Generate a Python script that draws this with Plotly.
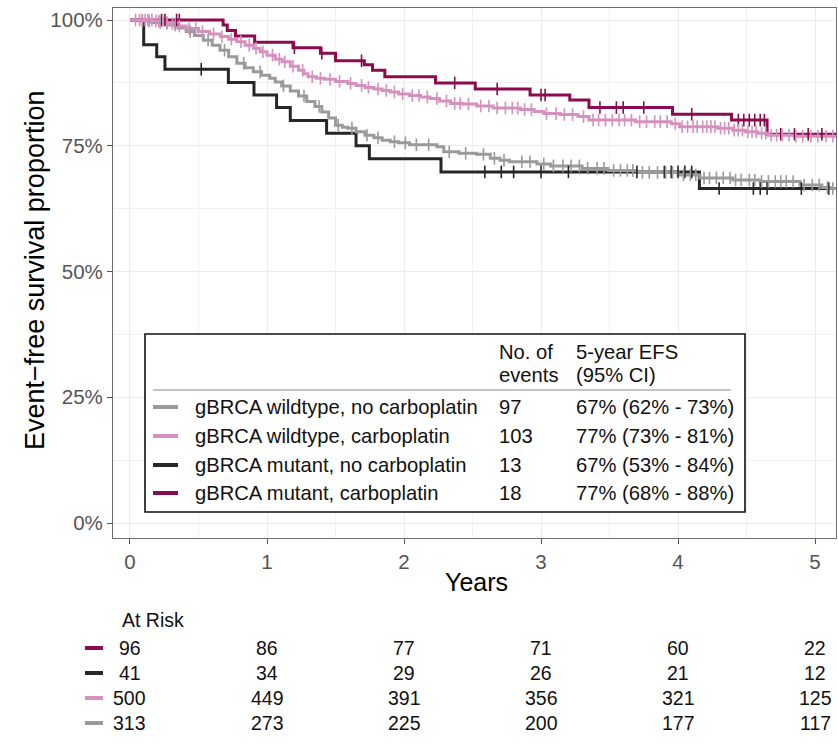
import numpy as np
import plotly.graph_objects as go

# ---------------- data ----------------
groups = ["gBRCA wildtype, no carboplatin", "gBRCA wildtype, carboplatin",
          "gBRCA mutant, no carboplatin", "gBRCA mutant, carboplatin"]
colors = ["#9A9A9A", "#D590BE", "#262626", "#8B0A50"]
n_events = ["97", "103", "13", "18"]
efs5 = ["67% (62% - 73%)", "77% (73% - 81%)", "67% (53% - 84%)", "77% (68% - 88%)"]

# Kaplan-Meier step curves (time in years, survival proportion)
wnc_t = [0, 0.07, 0.16, 0.29, 0.35, 0.41, 0.47, 0.535, 0.60, 0.657, 0.72, 0.78, 0.84, 0.90, 0.96,
         1.02, 1.06, 1.107, 1.17, 1.23, 1.29, 1.35, 1.40, 1.45, 1.50, 1.55, 1.59, 1.65, 1.715, 1.78,
         1.84, 1.90, 1.96, 2.04, 2.24, 2.29, 2.40, 2.53, 2.63, 2.70, 2.77, 2.97, 3.07, 3.30, 3.49,
         3.70, 4.00, 4.16, 4.40, 4.60, 4.89, 5.05, 5.11]
wnc_s = [1.0, 0.998, 0.995, 0.990, 0.984, 0.977, 0.969, 0.960, 0.950, 0.940, 0.927, 0.914, 0.905,
         0.897, 0.890, 0.884, 0.877, 0.869, 0.859, 0.849, 0.838, 0.828, 0.817, 0.805, 0.791, 0.787,
         0.785, 0.778, 0.771, 0.766, 0.761, 0.758, 0.756, 0.752, 0.748, 0.738, 0.735, 0.733, 0.725,
         0.721, 0.718, 0.714, 0.710, 0.705, 0.701, 0.697, 0.692, 0.686, 0.682, 0.679, 0.672, 0.667,
         0.665]

wc_t = [0, 0.17, 0.25, 0.33, 0.41, 0.50, 0.58, 0.66, 0.72, 0.78, 0.84, 0.90, 0.95, 1.00, 1.06, 1.11,
        1.17, 1.23, 1.27, 1.30, 1.36, 1.42, 1.50, 1.59, 1.65, 1.715, 1.78, 1.84, 1.90, 1.96, 2.04,
        2.12, 2.19, 2.26, 2.34, 2.43, 2.53, 2.65, 2.85, 2.95, 3.02, 3.14, 3.27, 3.35, 3.69, 3.95,
        4.01, 4.29, 4.40, 4.49, 4.58, 4.66, 4.85]
wc_s = [1.0, 0.998, 0.993, 0.988, 0.983, 0.977, 0.972, 0.967, 0.962, 0.957, 0.950, 0.944, 0.937,
        0.930, 0.922, 0.917, 0.908, 0.900, 0.893, 0.887, 0.884, 0.882, 0.878, 0.874, 0.870, 0.866,
        0.863, 0.860, 0.857, 0.853, 0.850, 0.847, 0.844, 0.839, 0.834, 0.833, 0.829, 0.825, 0.822,
        0.818, 0.814, 0.812, 0.808, 0.801, 0.798, 0.794, 0.788, 0.785, 0.781, 0.778, 0.775, 0.771,
        0.769]

mnc_t = [0, 0.10, 0.195, 0.255, 0.718, 0.905, 1.07, 1.17, 1.435, 1.65, 1.747, 2.27, 4.156]
mnc_s = [1.0, 0.951, 0.927, 0.902, 0.876, 0.851, 0.826, 0.800, 0.775, 0.750, 0.724, 0.698, 0.665]

mc_t = [0, 0.68, 0.71, 0.77, 0.91, 1.19, 1.39, 1.50, 1.71, 1.77, 1.86, 2.23, 2.52, 2.92, 3.21,
        3.35, 3.96, 4.39, 4.65]
mc_s = [1.0, 0.990, 0.979, 0.968, 0.956, 0.945, 0.934, 0.919, 0.911, 0.900, 0.887, 0.875, 0.863,
        0.851, 0.841, 0.826, 0.8125, 0.801, 0.773]

last_followup = [5.2, 5.2, 5.2, 5.2]

# censoring times
wnc_cens = [0.09, 0.14, 0.22, 0.27, 0.33, 0.44, 0.57, 0.69, 0.83, 0.95, 1.12, 1.27, 1.38, 1.52,
            1.62, 1.73, 1.81, 1.93, 2.01, 2.09, 2.18, 2.33, 2.45, 2.58, 2.66, 2.73, 2.86, 2.92,
            3.02, 3.09, 3.16, 3.22, 3.28, 3.34, 3.41, 3.46, 3.53, 3.58, 3.63, 3.67, 3.74, 3.79,
            3.85, 3.91, 3.96, 4.04, 4.09, 4.13, 4.19, 4.23, 4.28, 4.33, 4.38, 4.42, 4.46, 4.52,
            4.56, 4.61, 4.66, 4.71, 4.75, 4.79, 4.84, 4.92, 4.98, 5.03, 5.09, 5.13]
wc_cens = [0.04, 0.07, 0.09, 0.11, 0.13, 0.16, 0.19, 0.21, 0.24, 0.27, 0.31, 0.36, 0.43, 0.48,
           0.53, 0.61, 0.67, 0.74, 0.81, 0.87, 0.92, 0.97, 1.04, 1.09, 1.13, 1.19, 1.26, 1.33,
           1.39, 1.46, 1.53, 1.61, 1.69, 1.74, 1.81, 1.87, 1.93, 1.99, 2.06, 2.11, 2.17, 2.24,
           2.31, 2.37, 2.41, 2.47, 2.56, 2.62, 2.68, 2.74, 2.79, 2.83, 2.88, 2.93, 3.04, 3.11,
           3.17, 3.23, 3.31, 3.38, 3.42, 3.47, 3.52, 3.57, 3.61, 3.66, 3.72, 3.77, 3.83, 3.87,
           3.92, 3.98, 4.03, 4.07, 4.11, 4.14, 4.18, 4.21, 4.24, 4.27, 4.31, 4.34, 4.37, 4.41,
           4.44, 4.47, 4.51, 4.54, 4.57, 4.61, 4.64, 4.68, 4.72, 4.76, 4.81, 4.86, 4.91, 4.97,
           5.02, 5.08, 5.13]
mnc_cens = [0.52, 2.59, 2.71, 2.80, 3.00, 3.20, 3.70, 3.90, 3.95, 4.00, 4.05, 4.10, 4.30, 4.55,
            4.60, 4.65, 4.90, 5.10]
mc_cens = [0.23, 0.255, 0.34, 0.36, 1.20, 1.40, 1.69, 2.37, 2.68, 3.00, 3.03, 3.43, 3.55, 3.60,
           3.75, 4.10, 4.44, 4.48, 4.52, 4.56, 4.60, 4.63, 4.75, 4.85, 4.95, 5.05]

# numbers at risk
risk_times = [0, 1, 2, 3, 4, 5]
risk_mc = [96, 86, 77, 71, 60, 22]
risk_mnc = [41, 34, 29, 26, 21, 12]
risk_wc = [500, 449, 391, 356, 321, 125]
risk_wnc = [313, 273, 225, 200, 177, 117]

x_ticks = [0, 1, 2, 3, 4, 5]
y_ticks = [0, 0.25, 0.5, 0.75, 1.0]
y_ticktext = ["0%", "25%", "50%", "75%", "100%"]

# ---------------- figure ----------------
W, H = 838, 746
ML, MR, MT, MB = 113, 2, 8, 208
PW, PH = W - ML - MR, H - MT - MB


def px(x):
    return (x - ML) / PW


def py(y):
    return (MT + PH - y) / PH


FONT = "Liberation Sans, Arial, Helvetica, sans-serif"

curves = {
    0: (wnc_t, wnc_s, wnc_cens),
    1: (wc_t, wc_s, wc_cens),
    2: (mnc_t, mnc_s, mnc_cens),
    3: (mc_t, mc_s, mc_cens),
}
draw_order = [2, 3, 0, 1]

fig = go.Figure()
for g in draw_order:
    t, s, _ = curves[g]
    fig.add_trace(go.Scatter(
        x=list(t) + [last_followup[g]], y=list(s) + [s[-1]],
        mode="lines", line=dict(color=colors[g], width=3, shape="hv"),
        name=groups[g], showlegend=False, hoverinfo="skip"))
for g in draw_order:
    t, s, c = curves[g]
    idx = np.searchsorted(np.array(t), np.array(c), side="right") - 1
    fig.add_trace(go.Scatter(
        x=c, y=np.array(s)[idx], mode="markers",
        marker=dict(symbol="line-ns", size=9, color=colors[g],
                    line=dict(color=colors[g], width=1.6)),
        showlegend=False, hoverinfo="skip"))

axis_common = dict(
    showline=True, linecolor="#6E6E6E", linewidth=1.2, mirror=True,
    ticks="outside", ticklen=5, tickwidth=1.1, tickcolor="#555555",
    tickfont=dict(family=FONT, size=20.5, color="#555555"),
    showgrid=True, gridcolor="#EBEBEB", gridwidth=1.3, zeroline=False,
)
fig.update_xaxes(range=[-0.124, 5.153], tickmode="array", tickvals=x_ticks,
                 ticktext=[str(v) for v in x_ticks],
                 minor=dict(tickvals=[0.5, 1.5, 2.5, 3.5, 4.5], showgrid=True,
                            gridcolor="#F1F1F1", gridwidth=0.8, ticks=""),
                 **axis_common)
fig.update_yaxes(range=[-0.0298, 1.0239], tickmode="array", tickvals=y_ticks,
                 ticktext=y_ticktext,
                 minor=dict(tickvals=[0.125, 0.375, 0.625, 0.875], showgrid=True,
                            gridcolor="#F1F1F1", gridwidth=0.8, ticks=""),
                 **axis_common)

shapes = []
annotations = []

# axis titles
annotations.append(dict(xref="paper", yref="paper", x=px(476), y=py(582), text="Years",
                        showarrow=False, xanchor="center", yanchor="middle",
                        font=dict(family=FONT, size=25, color="#000000")))
annotations.append(dict(xref="paper", yref="paper", x=px(35), y=py(271),
                        text="Event\u2212free survival proportion", textangle=-90,
                        showarrow=False, xanchor="center", yanchor="middle",
                        font=dict(family=FONT, size=27, color="#000000")))

# legend box (table)
BX0, BX1, BY0, BY1 = 145, 745, 334, 512
shapes.append(dict(type="rect", xref="paper", yref="paper", x0=px(BX0), x1=px(BX1),
                   y0=py(BY1), y1=py(BY0), fillcolor="white",
                   line=dict(color="#111111", width=1.6), layer="above"))
shapes.append(dict(type="line", xref="paper", yref="paper", x0=px(153), x1=px(731),
                   y0=py(390), y1=py(390), line=dict(color="#8A8A8A", width=1.2),
                   layer="above"))
LF = dict(family=FONT, size=20.2, color="#111111")
for txt, xx, yy in [("No. of", 497, 352), ("events", 497, 375),
                    ("5-year EFS", 574, 352), ("(95% CI)", 574, 375)]:
    annotations.append(dict(xref="paper", yref="paper", x=px(xx), y=py(yy), text=txt,
                            showarrow=False, xanchor="left", yanchor="middle", font=LF))
row_y = [407, 436, 465, 493]
for g in range(4):
    yy = row_y[g]
    shapes.append(dict(type="line", xref="paper", yref="paper", x0=px(153), x1=px(178),
                       y0=py(yy), y1=py(yy), line=dict(color=colors[g], width=4),
                       layer="above"))
    for txt, xx in [(groups[g], 193), (n_events[g], 497), (efs5[g], 574)]:
        annotations.append(dict(xref="paper", yref="paper", x=px(xx), y=py(yy), text=txt,
                                showarrow=False, xanchor="left", yanchor="middle", font=LF))

# at-risk table
TF = dict(family=FONT, size=19.5, color="#111111")
annotations.append(dict(xref="paper", yref="paper", x=px(120), y=py(620), text="At Risk",
                        showarrow=False, xanchor="left", yanchor="middle", font=TF))
risk_rows = [(3, risk_mc), (2, risk_mnc), (1, risk_wc), (0, risk_wnc)]
risk_y = [648, 673, 698, 723]
for (g, vals), yy in zip(risk_rows, risk_y):
    shapes.append(dict(type="line", xref="paper", yref="paper", x0=px(85), x1=px(103),
                       y0=py(yy), y1=py(yy), line=dict(color=colors[g], width=4)))
    for t, v in zip(risk_times, vals):
        annotations.append(dict(xref="x", yref="paper", x=t, y=py(yy), text=str(v),
                                showarrow=False, xanchor="center", yanchor="middle", font=TF))

fig.update_layout(
    width=W, height=H, margin=dict(l=ML, r=MR, t=MT, b=MB, autoexpand=False),
    paper_bgcolor="white", plot_bgcolor="white",
    font=dict(family=FONT), shapes=shapes, annotations=annotations, showlegend=False,
)

fig.write_html("out.html")
